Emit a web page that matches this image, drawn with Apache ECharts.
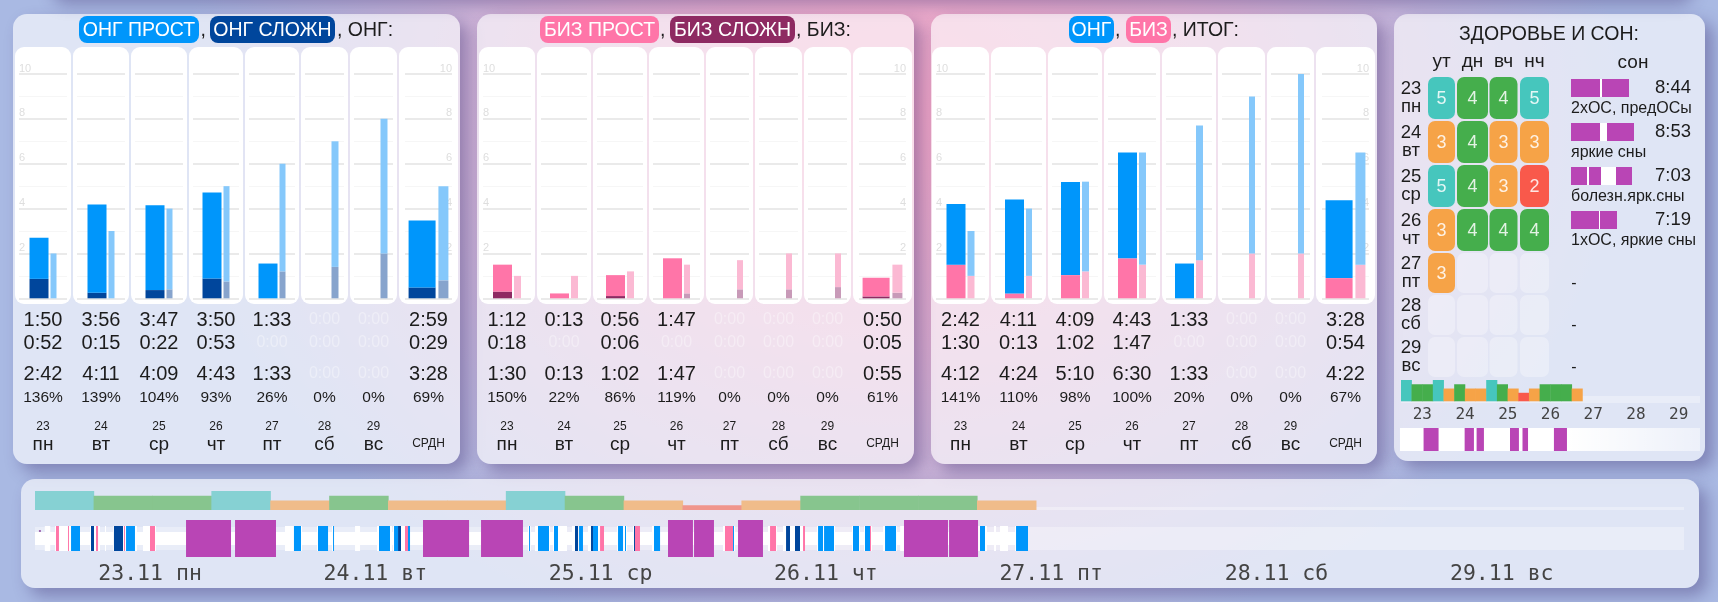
<!DOCTYPE html>
<html><head><meta charset="utf-8">
<script src="https://cdn.jsdelivr.net/npm/echarts@6/dist/echarts.min.js"></script>
<style>
html,body{margin:0;padding:0;width:1718px;height:602px;overflow:hidden;
 background:radial-gradient(ellipse 720px 560px at 900px 110px,#f3a6c6 0%,#dcadd0 42%,#a9b9e3 100%),#a7b9e3;}
.box{position:absolute;border-radius:14px;background:rgba(255,255,255,.63);box-shadow:8px 8px 16px rgba(60,45,110,.38);}
.card{position:absolute;border-radius:9px;background:#fff;}
.track{position:absolute;background:rgba(255,255,255,.32);}
#c{position:absolute;left:0;top:0;width:1718px;height:602px;}
</style></head><body><div id="bg"></div><div id="c"></div>
<script>
// ---------- values ----------
const dayNums=['23','24','25','26','27','28','29'];
const dayNames=['пн','вт','ср','чт','пт','сб','вс'];
const avgLabel='СРДН';

const ongSimple =['1:50','3:56','3:47','3:50','1:33','0:00','0:00','2:59'];
const ongComplex=['0:52','0:15','0:22','0:53','0:00','0:00','0:00','0:29'];
const ongTotal  =['2:42','4:11','4:09','4:43','1:33','0:00','0:00','3:28'];
const ongPercent=['136%','139%','104%','93%','26%','0%','0%','69%'];
const ongPlan   =[2,3,4,5,6,7,8,5];
const ongPlanComplex=[0,0,0.4,0.75,1.2,1.4,2,0.8];

const bizSimple =['1:12','0:13','0:56','1:47','0:00','0:00','0:00','0:50'];
const bizComplex=['0:18','0:00','0:06','0:00','0:00','0:00','0:00','0:05'];
const bizTotal  =['1:30','0:13','1:02','1:47','0:00','0:00','0:00','0:55'];
const bizPercent=['150%','22%','86%','119%','0%','0%','0%','61%'];
const bizPlan   =[1,1,1.2,1.5,1.7,2,2,1.5];
const bizPlanComplex=[0,0,0,0.22,0.4,0.4,0.5,0.25];

const sumOng=['2:42','4:11','4:09','4:43','1:33','0:00','0:00','3:28'];
const sumBiz=['1:30','0:13','1:02','1:47','0:00','0:00','0:00','0:54'];
const sumTotal=['4:12','4:24','5:10','6:30','1:33','0:00','0:00','4:22'];
const sumPercent=['141%','110%','98%','100%','20%','0%','0%','67%'];
const sumPlanTotal=[3,4,5.2,6.5,7.7,9,10,6.5];
const sumPlanBiz=[1,1,1.2,1.5,1.7,2,2,1.5];

const healthParts=['ут','дн','вч','нч'];
const healthLevels=[[5,4,4,5],[3,4,3,3],[5,4,3,2],[3,4,4,4],[3,null,null,null],[null,null,null,null],[null,null,null,null]];
const sleepTimes=['8:44','8:53','7:03','7:19','-','-','-'];
const sleepNotes=['2хОС, предОСы','яркие сны','болезн.ярк.сны','1хОС, яркие сны'];
const sleepSpans=[[0,0,4.35],[0,4.65,8.7],[1,0,4.35],[1,5.4,9.45],[2,0,2.4],[2,2.7,4.5],[2,6.75,9.15],[3,0,4.2],[3,4.35,6.9]];
const sleepWhole=[[0,0,8.7],[1,0,9.45],[2,0,9.15],[3,0,6.9]];
const weekSleepMini=[[13.2,21.6],[36.2,41.4],[42.9,47],[61.6,66.6],[68.6,71.7],[86.2,93.5]];

const dayTitles=['23.11 пн','24.11 вт','25.11 ср','26.11 чт','27.11 пт','28.11 сб','29.11 вс'];
// timeline, hours since start of the week
const tlAwakeBand=[[0,101.12]];
const tlAwakeBumps=[[1,1.55],[2.04,4.58],[5.6,6.62],[7.13,7.23],[7.94,10.39],[11,12.32],[25.46,27.19],[28.72,29.84],[30.24,30.45],[32.59,33.1],[34.83,36.35],[36.46,38.19],[50.2,50.5],[50.92,52.44],[52.75,54.17],[54.68,55.8],[56.31,57.94],[59.27,60.29],[60.9,61.61],[62.83,63.65],[70.06,71.28],[74.64,75.56],[76.17,78.41],[79.63,81.47],[83.2,84.01],[84.42,85.23],[86.36,87.78],[88.1,88.49],[96.03,96.94],[97.66,97.86],[98.27,99.08],[99.8,101.12]];
const tlOngSimple=[[3.67,4.58],[9.27,10.18],[26.37,27.09],[28.82,29.84],[30.35,30.45],[35.03,36.15],[36.56,36.97],[37.98,38.19],[50.31,50.41],[51.22,52.34],[52.85,53.26],[55.4,55.8],[56.82,57.33],[59.37,59.88],[60.08,60.18],[63.03,63.65],[71.08,71.18],[79.74,80.24],[80.35,81.36],[83.3,83.91],[84.52,85.03],[86.56,87.68],[96.23,96.74],[99.9,101.12]];
const tlOngComplex=[[5.7,6.01],[8.04,8.96],[36.97,37.27],[54.99,55.3],[56.62,56.82],[61,61.1],[76.48,76.88],[77.39,77.9]];
const tlBiz=[[2.14,2.44],[3.36,3.46],[6.21,6.42],[9.06,9.16],[11.71,12.22],[37.68,37.98],[57.54,57.94],[61.1,61.61],[70.26,71.08],[74.85,75.46],[78.21,78.41],[85.03,85.13]];
const tlSleep=[[15.38,19.96],[20.37,24.54],[39.51,44.2],[45.42,49.69],[64.46,67],[67.11,69.14],[71.59,74.13],[88.49,92.97],[93.08,96.03]];
const tlMark=[[0.4,0.6]];

// ---------- styling / layout ----------
const SANS='"Liberation Sans",Arial,sans-serif', MONO='"DejaVu Sans Mono",monospace';
const C={ink:'#1c1c1c',faint:'rgba(255,255,255,.36)',ong:'#0096fb',ongDark:'#00469c',ongLight:'#85c8fb',ongDarkLight:'#87a4cd',
 biz:'#ff75a8',bizDark:'#8e2a62',bizLight:'#fbb9d3',bizDarkLight:'#c89ab8',sleep:'#b945b5'};
const levelColors={0:'rgba(255,255,255,.32)',2:'#f9594b',3:'#f6a347',4:'#45ae4c',5:'#46c6bd'};
const levelSoft={2:'#f0958c',3:'#f0bc8a',4:'#87c58e',5:'#86d1d3'};
const cardsA=[[15,71],[73,129],[131,187],[189,243],[245,299],[301,348],[350,397],[399,458]];
const cardsB=[[479,535],[537,591],[593,647],[649,704],[706,753],[755,802],[804,851],[853,912]];
const cardsC=[[932,989],[991,1046],[1048,1102],[1104,1160],[1162,1216],[1218,1265],[1267,1314],[1316,1375]];
const lightA=[6,6,6,6,6,7,7,10], lightB=[7,7,7,6,6,6,6,10], lightC=[7,6,7,7,7,6,6,10];
const boxes=[[13,14,447,450],[477,14,437,450],[931,14,446,450],[1394,14,311,447],[21,479,1678,109],[45,-100,1640,96]];
const tracks=[[1401,396,299,7],[35,507,1649,3],[35,527,1649,23]];

const bg=document.getElementById('bg');
function div(cls,l,t,w,h,extra){const d=document.createElement('div');d.className=cls;
 d.style.cssText=`left:${l}px;top:${t}px;width:${w}px;height:${h}px;`+(extra||'');bg.appendChild(d);}
boxes.forEach(b=>div('box',...b));
[...cardsA,...cardsB,...cardsC].forEach(c=>div('card',c[0],47,c[1]-c[0],257));
tracks.forEach(b=>div('track',...b));
div('track',1400,428,300,23,'background:linear-gradient(90deg,#fff 0,#fff 56%,rgba(255,255,255,.45) 100%)');

const hm=s=>{const p=s.split(':');return +p[0]+p[1]/60;};
const grid=[],xAxis=[],yAxis=[],series=[],elements=[],extraAxes=[];
function text(t,x,y,size,opt){opt=opt||{};elements.push({type:'text',silent:true,z:5,x,y,style:{text:t,
 font:`${size}px ${opt.family||SANS}`,fill:opt.fill||C.ink,textAlign:opt.align||'center',textVerticalAlign:'middle',align:opt.align||'center',verticalAlign:'middle'}});}
function pill(t,x0,x1,color){elements.push({type:'rect',silent:true,z:4,shape:{x:x0,y:16,width:x1-x0,height:27,r:8},style:{fill:color}});
 text(t,(x0+x1)/2,31,19.5,{fill:'#fff'});}

function addPanel(cards,lightW,lower,upper,planLower,planUpper,col,rows,percent){
 cards.forEach((c,i)=>{
  const inset=i===7?6:4, gi=grid.length, ctr=(c[0]+c[1])/2, sideLabel=i===0||i===7;
  grid.push({left:c[0]+inset,width:c[1]-c[0]-2*inset,top:74,height:224.3});
  xAxis.push({type:'category',gridIndex:gi,data:['d'],axisLabel:{show:false},axisTick:{show:false},axisLine:{show:false},splitLine:{show:false}});
  yAxis.push({type:'value',gridIndex:gi,min:0,max:10,interval:2,position:i===7?'right':'left',axisLine:{show:false},axisTick:{show:false},
   axisLabel:{show:sideLabel,inside:true,margin:0,fontSize:11,fontFamily:SANS,color:'#dedede',verticalAlign:'bottom',formatter:v=>v===0?'':String(v)},
   splitLine:{lineStyle:{color:'#eaeaea',width:2}},minorTick:{show:false,splitNumber:2},minorSplitLine:{show:true,lineStyle:{color:'#f6f6f6',width:1}}});
  const common={type:'bar',xAxisIndex:gi,yAxisIndex:gi,barGap:'10.5%',silent:true};
  const mainW=i===7?27:19;
  series.push({...common,stack:'m'+gi,barWidth:mainW,data:[lower[i]],itemStyle:{color:col[0]}});
  series.push({...common,stack:'m'+gi,barWidth:mainW,data:[upper[i]],itemStyle:{color:col[1]}});
  series.push({...common,stack:'p'+gi,barWidth:lightW[i],data:[planLower[i]],itemStyle:{color:col[2]}});
  series.push({...common,stack:'p'+gi,barWidth:lightW[i],data:[planUpper[i]],itemStyle:{color:col[3]}});
  [[rows[0],320],[rows[1],343],[rows[2],374]].forEach(r=>{
   const zero=r[0][i]==='0:00';
   text(r[0][i],ctr,r[1],zero?16:20,{fill:zero?C.faint:C.ink});
  });
  text(percent[i],ctr,398,15.5);
  if(i<7){text(dayNums[i],ctr,427,12);text(dayNames[i],ctr,445,19);}
  else text(avgLabel,ctr,444,12);
 });
}
addPanel(cardsA,lightA,ongComplex.map(hm),ongSimple.map(hm),ongPlanComplex,ongPlan.map((v,i)=>v-ongPlanComplex[i]),
 [C.ongDark,C.ong,C.ongDarkLight,C.ongLight],[ongSimple,ongComplex,ongTotal],ongPercent);
addPanel(cardsB,lightB,bizComplex.map(hm),bizSimple.map(hm),bizPlanComplex,bizPlan.map((v,i)=>v-bizPlanComplex[i]),
 [C.bizDark,C.biz,C.bizDarkLight,C.bizLight],[bizSimple,bizComplex,bizTotal],bizPercent);
addPanel(cardsC,lightC,sumBiz.map(hm),sumOng.map(hm),sumPlanBiz,sumPlanTotal.map((v,i)=>v-sumPlanBiz[i]),
 [C.biz,C.ong,C.bizLight,C.ongLight],[sumOng,sumBiz,sumTotal],sumPercent);

// titles
pill('ОНГ ПРОСТ',79,199,C.ong);text(',',200.5,31,19.5,{align:'left'});pill('ОНГ СЛОЖН',210,335,C.ongDark);text(', ОНГ:',337,31,19.5,{align:'left'});
pill('БИЗ ПРОСТ',540,659,C.biz);text(',',660,31,19.5,{align:'left'});pill('БИЗ СЛОЖН',670,795,C.bizDark);text(', БИЗ:',796,31,19.5,{align:'left'});
pill('ОНГ',1069,1114,C.ong);text(',',1115,31,19.5,{align:'left'});pill('БИЗ',1126,1171,C.biz);text(', ИТОГ:',1172,31,19.5,{align:'left'});
text('ЗДОРОВЬЕ И СОН:',1549,35,19.5);

// health grids (two row heights)
const cellW=[27,31,28,29];
function heatGrid(from,to,top,height,showHead){
 const gi=grid.length;
 grid.push({left:1426,width:124,top,height});
 xAxis.push({type:'category',gridIndex:gi,position:'top',data:healthParts,axisLine:{show:false},axisTick:{show:false},
  axisLabel:{show:showHead,margin:5,fontSize:19,fontFamily:SANS,color:C.ink}});
 yAxis.push({type:'category',gridIndex:gi,inverse:true,data:dayNums.slice(from,to).map((d,i)=>d+'\n'+dayNames[from+i]),
  axisLine:{show:false},axisTick:{show:false},
  axisLabel:{margin:15,align:'center',fontSize:18.5,lineHeight:18,fontFamily:SANS,color:C.ink}});
 const data=[];
 healthLevels.slice(from,to).forEach((row,r)=>row.forEach((v,c)=>data.push([c,r,v||0])));
 series.push({type:'custom',xAxisIndex:gi,yAxisIndex:gi,silent:true,data,encode:{x:0,y:1},renderItem(p,api){
  const c=api.value(0),pt=api.coord([c,api.value(1)]),bandH=api.size([0,1])[1]-2,lv=api.value(2),w=cellW[c];
  const kids=[{type:'rect',shape:{x:pt[0]-w/2,y:pt[1]-bandH/2,width:w,height:bandH,r:7},style:{fill:levelColors[lv]}}];
  if(lv)kids.push({type:'text',style:{text:String(lv),x:pt[0],y:pt[1]+1,textAlign:'center',textVerticalAlign:'middle',align:'center',verticalAlign:'middle',font:`18px ${SANS}`,fill:'rgba(255,255,255,.85)'}});
  return {type:'group',children:kids};
 }});
}
heatGrid(0,4,76,176,true);
heatGrid(4,7,252,126,false);

// range mark helper
function spans(gi,data,color,lo,hi){
 series.push({type:'custom',xAxisIndex:gi,yAxisIndex:gi,silent:true,clip:false,data,encode:{x:[0,1]},renderItem(p,api){
  const a=api.coord([api.value(0),lo]),b=api.coord([api.value(1),hi]);
  return {type:'rect',shape:{x:a[0],y:b[1],width:b[0]-a[0],height:a[1]-b[1]},style:{fill:color}};
 }});
}
// sleep rows
{const gi=grid.length;
 grid.push({left:1571,width:120,top:66,height:176});
 xAxis.push({type:'value',gridIndex:gi,min:0,max:18,show:false});
 yAxis.push({type:'category',gridIndex:gi,inverse:true,data:['0','1','2','3'],show:false});
 const rowSeries=(data,color)=>series.push({type:'custom',xAxisIndex:gi,yAxisIndex:gi,silent:true,data,encode:{y:0,x:[1,2]},renderItem(p,api){
  const a=api.coord([api.value(1),api.value(0)]),b=api.coord([api.value(2),api.value(0)]);
  return {type:'rect',shape:{x:a[0],y:a[1]-9,width:b[0]-a[0],height:18},style:{fill:color}};
 }});
 rowSeries(sleepWhole,'#fff');
 rowSeries(sleepSpans,C.sleep);
}
text('сон',1633,63,19);
sleepTimes.slice(0,4).forEach((t,i)=>text(t,1691,88+44*i,18.5,{align:'right'}));
sleepNotes.forEach((t,i)=>text(t,1571,108.5+44*i,16,{align:'left'}));
sleepTimes.slice(4).forEach((t,i)=>text(t,1574,284+42*i,16));

// week level band, small
const levelSeq=healthLevels.flat().filter(v=>v);
const partCats=Array.from({length:28},(_,i)=>String(i));
{const gi=grid.length;
 grid.push({left:1401,width:299,top:380,height:23});
 xAxis.push({type:'category',gridIndex:gi,data:partCats,show:false});
 yAxis.push({type:'value',gridIndex:gi,min:-0.4,max:5,show:false});
 series.push({type:'bar',xAxisIndex:gi,yAxisIndex:gi,silent:true,barWidth:'104%',data:levelSeq,itemStyle:{color:p=>levelColors[p.value]}});
 extraAxes.push({type:'category',gridIndex:gi,position:'bottom',data:dayNums,axisLine:{show:false},axisTick:{show:false},
  axisLabel:{margin:4,fontSize:16,fontFamily:MONO,color:'#444'}});
}
// small sleep strip
{const gi=grid.length;
 grid.push({left:1400,width:300,top:428,height:23});
 xAxis.push({type:'value',gridIndex:gi,min:0,max:168,show:false});
 yAxis.push({type:'value',gridIndex:gi,min:0,max:1,show:false});
 spans(gi,weekSleepMini,C.sleep,0,1);
}
// week level band, large
{const gi=grid.length;
 grid.push({left:35,width:1649,top:491,height:19});
 xAxis.push({type:'category',gridIndex:gi,data:partCats,show:false});
 yAxis.push({type:'value',gridIndex:gi,min:1,max:5,show:false});
 series.push({type:'bar',xAxisIndex:gi,yAxisIndex:gi,silent:true,barWidth:'101%',data:levelSeq,
  itemStyle:{color:p=>levelSoft[p.value]}});
}
// timeline
{const gi=grid.length;
 grid.push({left:35,width:1649.8,top:520,height:37});
 xAxis.push({type:'value',gridIndex:gi,min:0,max:168,show:false});
 yAxis.push({type:'value',gridIndex:gi,min:0,max:37,show:false});
 spans(gi,tlAwakeBand,'#fff',12,25);
 spans(gi,tlAwakeBumps,'#fff',6,31);
 spans(gi,tlMark,'#a06ab0',25,27);
 spans(gi,tlOngSimple,C.ong,6,31);
 spans(gi,tlOngComplex,C.ongDark,6,31);
 spans(gi,tlBiz,C.biz,6,31);
 spans(gi,tlSleep,C.sleep,0,37);
}
// day titles
{const gi=grid.length;
 grid.push({left:37.4,width:1577,top:560,height:1});
 xAxis.push({type:'category',gridIndex:gi,data:dayTitles,axisLine:{show:false},axisTick:{show:false},
  axisLabel:{margin:2,interval:0,fontSize:21.5,fontFamily:MONO,color:'#444',verticalAlign:'top'}});
 yAxis.push({type:'value',gridIndex:gi,show:false});
}
extraAxes.forEach(a=>xAxis.push(a));

const chart=echarts.init(document.getElementById('c'),null,{width:1718,height:602});
chart.setOption({animation:false,backgroundColor:'transparent',grid,xAxis,yAxis,series,graphic:{elements}});
</script></body></html>
